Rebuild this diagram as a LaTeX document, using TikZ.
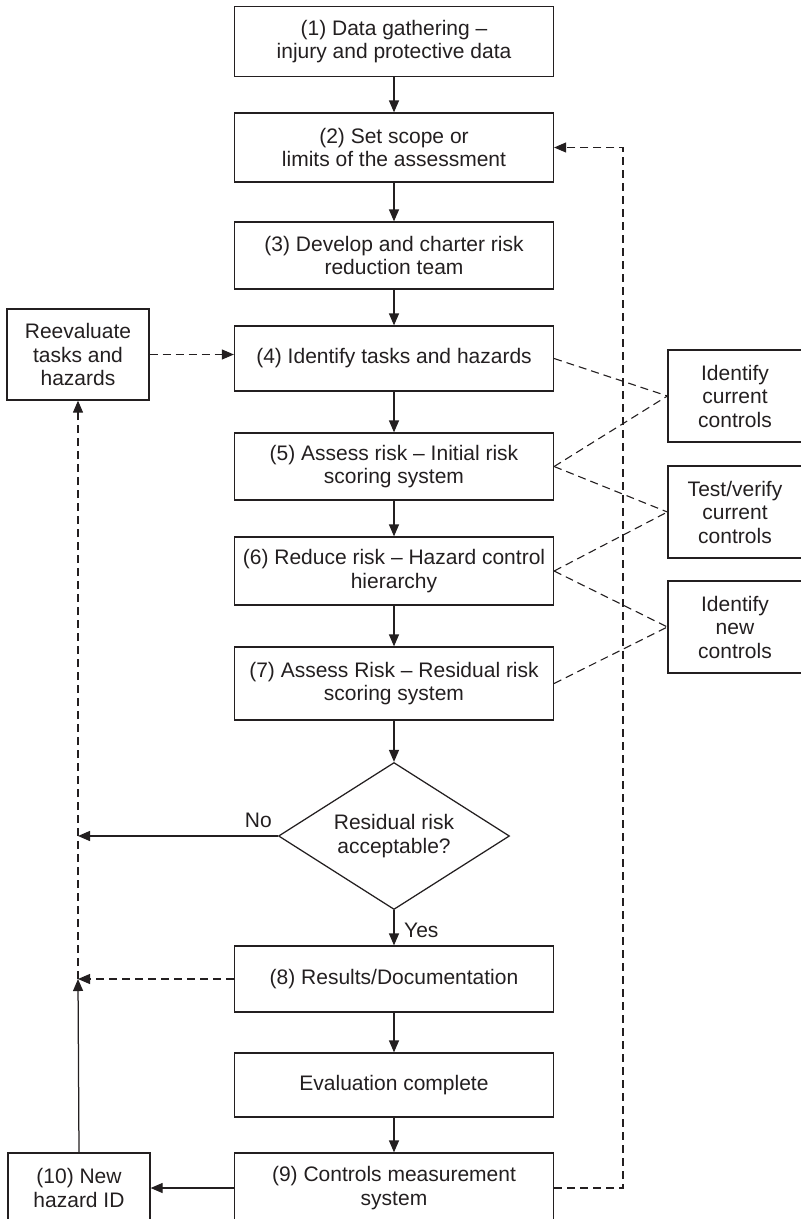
\documentclass[tikz,border=0pt]{standalone}
\usepackage{fontspec}
\setmainfont{Liberation Sans}
\usetikzlibrary{arrows.meta,shapes.geometric}
\definecolor{ink}{HTML}{231F20}
\begin{document}
\begin{tikzpicture}[x=1pt,y=-1pt,
  every node/.style={font=\fontsize{21}{23.5}\selectfont, text=ink},
  box/.style={draw=ink, line width=1.25pt, align=center, inner sep=0pt},
  mainbox/.style={box, minimum width=319pt},
  sidebox/.style={box, minimum width=134pt, minimum height=92pt},
  flow/.style={draw=ink, line width=1.25pt, -{Triangle[length=12pt,width=10pt]}},
  dashln/.style={draw=ink, line width=1.1pt, dash pattern=on 8pt off 5pt},
  dashflow/.style={dashln, -{Triangle[length=12pt,width=10pt]}},
  lbl/.style={inner sep=0pt}
]
\useasboundingbox (0,0) rectangle (801,1219);

% main column
\node[mainbox, minimum height=70pt] (b1) at (394,41.5) {(1) Data gathering –\\injury and protective data};
\node[mainbox, minimum height=69pt] (b2) at (394,147.5) {(2) Set scope or\\limits of the assessment};
\node[mainbox, minimum height=67pt] (b3) at (394,255.5) {(3) Develop and charter risk\\reduction team};
\node[mainbox, minimum height=65pt] (b4) at (394,358.5) {(4) Identify tasks and hazards};
\node[mainbox, minimum height=67pt] (b5) at (394,466.5) {(5) Assess risk – Initial risk\\scoring system};
\node[mainbox, minimum height=68pt] (b6) at (394,571) {(6) Reduce risk – Hazard control\\hierarchy};
\node[mainbox, minimum height=73pt] (b7) at (394,683.5) {(7) Assess Risk – Residual risk\\scoring system};
\node[draw=ink, line width=1.25pt, diamond, aspect=1.57, minimum width=231pt,
      minimum height=147pt, inner sep=1pt, align=center] (dec) at (394,836) {Residual risk\\acceptable?};
\node[mainbox, minimum height=66pt] (b8) at (394,979) {(8) Results/Documentation};
\node[mainbox, minimum height=64pt] (ev) at (394,1085) {Evaluation complete};
\node[mainbox, minimum height=70pt] (b9) at (394,1188) {(9) Controls measurement\\system};

% side boxes
\node[box, minimum width=142pt, minimum height=91pt] (re) at (78,354.5) {Reevaluate\\tasks and\\hazards};
\node[box, minimum width=142pt, minimum height=70pt] (b10) at (79,1188) {(10) New\\hazard ID};
\node[sidebox] (c1) at (735,396) {Identify\\current\\controls};
\node[sidebox] (c2) at (735,512) {Test/verify\\current\\controls};
\node[sidebox] (c3) at (735,627) {Identify\\new\\controls};

% labels
\node[lbl, anchor=south east] (no) at (272,828) {No};
\node[lbl, anchor=west] (yes) at (404,930) {Yes};

% helper points
\coordinate (jn) at (78,836);
\coordinate (jy) at (78,979);
\coordinate (lx) at (623,0);

% main flow
\draw[flow] (b1) -- (b2);
\draw[flow] (b2) -- (b3);
\draw[flow] (b3) -- (b4);
\draw[flow] (b4) -- (b5);
\draw[flow] (b5) -- (b6);
\draw[flow] (b6) -- (b7);
\draw[flow] (b7) -- (dec);
\draw[flow] (dec) -- (b8);
\draw[flow] (b8) -- (ev);
\draw[flow] (ev) -- (b9);
\draw[flow] (b9) -- (b10);
\draw[flow] (dec.west) -- (jn);
\draw[flow] (b10.north) -- (jy);

% dashed links
\draw[dashflow] (re.east) -- (re.east -| b4.west);
\draw[dashflow] (jy) -- (re.south);
\draw[dashflow] (b8.west) -- (jy);
\draw[dashflow] (b9.east) -- (b9.east -| lx) |- (b2.east);
\draw[dashln] (b4.east) -- (c1.west);
\draw[dashln] (b5.east) -- (c1.west);
\draw[dashln] (b5.east) -- (c2.west);
\draw[dashln] (b6.east) -- (c2.west);
\draw[dashln] (b6.east) -- (c3.west);
\draw[dashln] (b7.east) -- (c3.west);
\end{tikzpicture}
\end{document}
